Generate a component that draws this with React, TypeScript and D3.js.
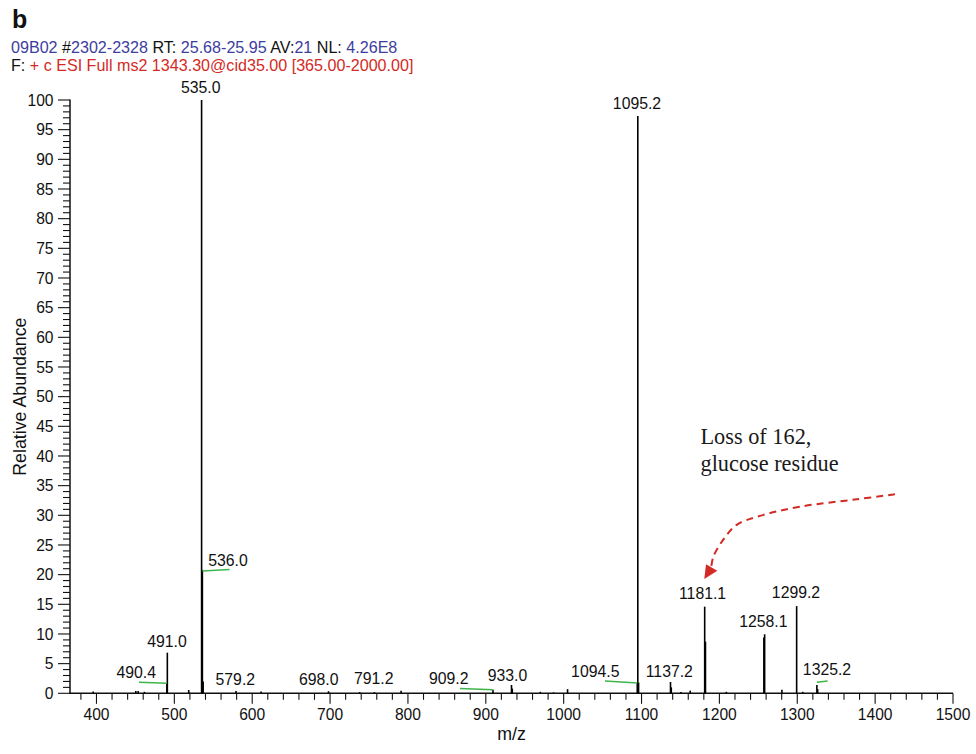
import React from "react";
import * as d3 from "d3";

// ---------- data ----------
const peakMz = [
  395.8, 450.5, 453.5, 461.6, 490.4, 491.0, 518.5, 535.0, 536.0, 537.0,
  579.2, 611.4, 698.0, 738.0, 756.9, 791.2, 909.2, 933.0, 934.0, 970.0,
  987.0, 1005.0, 1094.5, 1095.2, 1096.2, 1137.2, 1138.2, 1150.6, 1162.5,
  1181.1, 1182.1, 1208.9, 1257.1, 1258.1, 1280.3, 1299.2, 1307.0, 1325.2, 1326.2,
];
const peakAbundance = [
  0.3, 0.4, 0.4, 0.25, 1.7, 6.85, 0.55, 100, 20.8, 2.0,
  0.4, 0.3, 0.35, 0.2, 0.2, 0.45, 0.6, 1.4, 0.8, 0.25,
  0.15, 0.7, 1.7, 97.3, 1.8, 1.9, 1.0, 0.2, 0.45,
  14.6, 8.7, 0.25, 9.4, 9.95, 0.6, 14.7, 0.25, 1.4, 0.7,
];

// peak labels: text, label centre (m/z), label baseline (abundance units)
const labelText = [
  "535.0", "536.0", "490.4", "491.0", "579.2", "698.0", "791.2", "909.2",
  "933.0", "1094.5", "1095.2", "1137.2", "1181.1", "1258.1", "1299.2", "1325.2",
];
const labelMz = [
  533.9, 568.9, 451.1, 490.6, 578.3, 685.4, 756.0, 852.3,
  927.9, 1040.6, 1094.2, 1135.7, 1178.4, 1256.4, 1298.4, 1338.2,
];
const labelAb = [
  101.1, 21.46, 2.53, 7.85, 1.4, 1.4, 1.57, 1.52,
  2.12, 2.8, 98.5, 2.7, 15.84, 11.12, 16.0, 3.08,
];

// green leader lines: [from m/z, from ab, to m/z, to ab]
const leaderFromMz = [536.0, 490.4, 909.2, 1094.5, 1325.2];
const leaderFromAb = [20.6, 1.7, 0.6, 1.75, 1.85];
const leaderToMz = [571.0, 454.6, 866.9, 1053.1, 1339.0];
const leaderToAb = [20.85, 1.88, 0.8, 2.07, 2.07];

const xTickLabels = [400, 500, 600, 700, 800, 900, 1000, 1100, 1200, 1300, 1400, 1500];
const yTickLabels = [0, 5, 10, 15, 20, 25, 30, 35, 40, 45, 50, 55, 60, 65, 70, 75, 80, 85, 90, 95, 100];

// annotation arrow (data coordinates)
const arrowMz = [1425.5, 1376.3, 1303.5, 1252.1, 1222.2, 1205.0, 1192.2, 1189.5];
const arrowAb = [33.54, 32.7, 31.45, 29.9, 28.4, 25.9, 23.0, 21.2];
const arrowHeadMz = [1180.6, 1182.8, 1197.3];
const arrowHeadAb = [19.27, 21.74, 20.66];

const headerLine1: [string, string][] = [
  ["09B02", "b"], [" #", "k"], ["2302-2328", "b"], [" RT: ", "k"], ["25.68-25.95", "b"],
  [" AV:", "k"], ["21", "b"], [" NL: ", "k"], ["4.26E8", "b"],
];
const headerLine2: [string, string][] = [
  ["F: ", "k"], ["+ c ESI Full ms2 1343.30@cid35.00 [365.00-2000.00]", "r"],
];

// ---------- layout ----------
const W = 976;
const H = 754;
const SANS = "'Liberation Sans', Arial, Helvetica, sans-serif";
const SERIF = "'Liberation Serif', 'Times New Roman', serif";
const BLUE = "#3d3d9e";
const RED = "#d42a26";
const GREEN = "#3db54a";
const colorOf = (c: string) => (c === "b" ? BLUE : c === "r" ? RED : "#111");

export default function App() {
  const x = d3.scaleLinear().domain([366, 1500]).range([70, 953]);
  const y = d3.scaleLinear().domain([0, 100]).range([693.3, 100]);
  const x0 = x.range()[0];
  const yBase = y(0);

  const xMinor = d3.range(380, 1501, 20);
  const yMinor = d3.range(0, 101, 1);

  const arrowPts: [number, number][] = arrowMz.map((m, i) => [x(m), y(arrowAb[i])]);
  const arrowPath = d3.line().curve(d3.curveCatmullRom.alpha(0.5))(arrowPts) || "";
  const headPts = arrowHeadMz.map((m, i) => `${x(m)},${y(arrowHeadAb[i])}`).join(" ");

  return (
    <svg
      width={W}
      height={H}
      style={{ position: "absolute", left: 0, top: 0, display: "block", background: "#fff" }}
      fontFamily={SANS}
    >
      {/* header */}
      <text x={12} y={28} fontSize={25} fontWeight="bold" fill="#111">b</text>
      <text x={11} y={52.7} fontSize={16.1}>
        {headerLine1.map(([t, c], i) => (
          <tspan key={i} fill={colorOf(c)} style={{ whiteSpace: "pre" }}>{t}</tspan>
        ))}
      </text>
      <text x={11} y={70.7} fontSize={16.1}>
        {headerLine2.map(([t, c], i) => (
          <tspan key={i} fill={colorOf(c)} style={{ whiteSpace: "pre" }}>{t}</tspan>
        ))}
      </text>

      {/* y axis */}
      <line x1={x0} x2={x0} y1={y(100) - 0.5} y2={yBase + 0.75} stroke="#111" strokeWidth={1.5} />
      {yMinor.map((v) => (
        <line key={"ym" + v} x1={x0 - (v % 5 === 0 ? 12 : 7)} x2={x0} y1={y(v)} y2={y(v)} stroke="#111" strokeWidth={1.1} />
      ))}
      {yTickLabels.map((v) => (
        <text key={"yl" + v} x={53.5} y={y(v)} dy="0.36em" textAnchor="end" fontSize={15.6} fill="#111">
          {v}
        </text>
      ))}
      <text
        transform={`translate(${26},${(y(0) + y(100)) / 2}) rotate(-90)`}
        textAnchor="middle"
        fontSize={17.8}
        fill="#111"
      >
        Relative Abundance
      </text>

      {/* x axis */}
      <line x1={x0 - 0.75} x2={x(1500)} y1={yBase} y2={yBase} stroke="#111" strokeWidth={1.5} />
      {xMinor.map((v) => (
        <line key={"xm" + v} x1={x(v)} x2={x(v)} y1={yBase} y2={yBase + (v % 100 === 0 ? 10.5 : 6.5)} stroke="#111" strokeWidth={1.1} />
      ))}
      {xTickLabels.map((v) => (
        <text key={"xl" + v} x={x(v)} y={720} textAnchor="middle" fontSize={15.6} fill="#111">
          {v}
        </text>
      ))}
      <text x={(x(366) + x(1500)) / 2} y={740} textAnchor="middle" fontSize={17.8} fill="#111">m/z</text>

      {/* peaks */}
      {peakMz.map((m, i) => (
        <line
          key={"p" + i}
          x1={x(m)}
          x2={x(m)}
          y1={yBase}
          y2={y(peakAbundance[i])}
          stroke="#000"
          strokeWidth={1.6}
        />
      ))}

      {/* leaders */}
      {leaderFromMz.map((m, i) => (
        <line
          key={"ld" + i}
          x1={x(m)}
          y1={y(leaderFromAb[i])}
          x2={x(leaderToMz[i])}
          y2={y(leaderToAb[i])}
          stroke={GREEN}
          strokeWidth={1.5}
        />
      ))}

      {/* peak labels */}
      {labelText.map((t, i) => (
        <text key={"lt" + i} x={x(labelMz[i])} y={y(labelAb[i])} textAnchor="middle" fontSize={15.8} fill="#111">
          {t}
        </text>
      ))}

      {/* annotation */}
      <text x={700.5} y={444.3} fontFamily={SERIF} fontSize={22.3} fill="#1a1a1a">Loss of 162,</text>
      <text x={700.5} y={471} fontFamily={SERIF} fontSize={22.3} fill="#1a1a1a">glucose residue</text>
      <path d={arrowPath} fill="none" stroke={RED} strokeWidth={2} strokeDasharray="7,5" />
      <polygon points={headPts} fill={RED} />
    </svg>
  );
}
